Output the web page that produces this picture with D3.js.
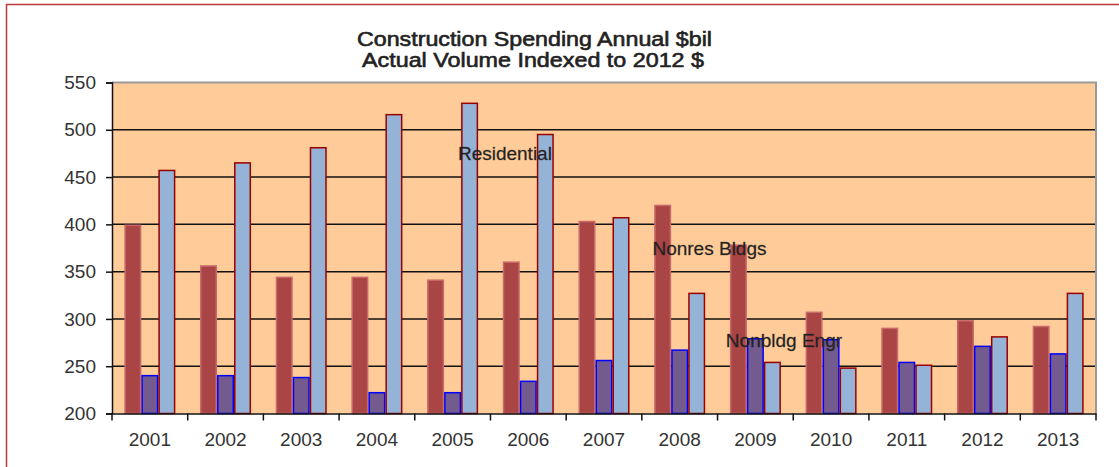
<!DOCTYPE html>
<html>
<head>
<meta charset="utf-8">
<script src="https://cdn.jsdelivr.net/npm/d3@7"></script>
<style>
  body { margin: 0; background: #fff; }
  svg { display: block; }
</style>
</head>
<body>
<div id="chart"></div>
<script>
// data
const years = ["2001", "2002", "2003", "2004", "2005", "2006", "2007", "2008", "2009", "2010", "2011", "2012", "2013"];
const nonresBldgs = [399, 356, 344, 344, 341, 360, 403, 420, 378, 307, 290, 298, 292];
const nonbldgEngr = [240, 240, 238, 222, 222, 234, 256, 267, 279, 278, 254, 271, 263];
const residential = [457, 465, 481, 516, 528, 495, 407, 327, 254, 248, 251, 281, 327];
const yTicks = [200, 250, 300, 350, 400, 450, 500, 550];

const seriesNames = ["Nonres Bldgs", "Nonbldg Engr", "Residential"];
const seriesValues = [nonresBldgs, nonbldgEngr, residential];
const seriesStyle = {
    "Nonres Bldgs": { fill: "#a94545", stroke: "#c96a6a" },
    "Nonbldg Engr": { fill: "#735a8f", stroke: "#0000ff" },
    "Residential": { fill: "#95b3d7", stroke: "#990000" }
};

const W = 1119, H = 467;
const margin = { top: 82.5, right: 23, bottom: 53.5, left: 112 },
    width = W - margin.left - margin.right,
    height = H - margin.top - margin.bottom;

const svg = d3.select("#chart")
    .append("svg")
    .attr("width", W)
    .attr("height", H);

// outer chart border (red, only top and left show)
svg.append("rect")
    .attr("x", 6.5).attr("y", 4.5)
    .attr("width", W + 20).attr("height", H + 20)
    .attr("fill", "none")
    .attr("stroke", "#b83a3a")
    .attr("stroke-width", 1.5);

// title
const titleLines = [
    { text: "Construction Spending Annual $bil", x: 534.5, y: 46, len: 355 },
    { text: "Actual Volume Indexed to 2012 $", x: 533, y: 67, len: 342 }
];
svg.selectAll(".title")
    .data(titleLines)
    .enter()
    .append("text")
    .attr("x", d => d.x - d.len / 2)
    .attr("y", d => d.y)
    .attr("textLength", d => d.len)
    .attr("lengthAdjust", "spacingAndGlyphs")
    .text(d => d.text)
    .style("font-family", "'Liberation Sans', Arial, sans-serif")
    .style("font-size", "20px")
    .attr("fill", "#222")
    .attr("stroke", "#222")
    .attr("stroke-width", 0.6);

const g = svg.append("g")
    .attr("transform", `translate(${margin.left},${margin.top})`);

const x0 = d3.scaleBand()
    .domain(years)
    .range([0, width])
    .padding(0);

const x1 = d3.scaleBand()
    .domain(seriesNames)
    .range([x0.bandwidth() * 0.163, x0.bandwidth() * 0.837])
    .padding(0);

const y = d3.scaleLinear()
    .domain([200, 550])
    .range([height, 0]);

// plot background
g.append("rect")
    .attr("x", 0).attr("y", y(550))
    .attr("width", width).attr("height", height)
    .attr("fill", "#ffcc99");

// gridlines
g.selectAll(".grid")
    .data(yTicks.filter(d => d > 200 && d < 550))
    .enter()
    .append("line")
    .attr("x1", 0).attr("x2", width)
    .attr("y1", d => y(d)).attr("y2", d => y(d))
    .attr("stroke", "#111")
    .attr("stroke-width", 1.5);

// top and right border of plot
g.append("path")
    .attr("d", `M0,${y(550)}H${width}V${height}`)
    .attr("fill", "none")
    .attr("stroke", "#9a9a9a")
    .attr("stroke-width", 2);

// bars
const rows = years.map((yr, i) => ({
    year: yr,
    values: seriesNames.map((s, j) => ({ series: s, value: seriesValues[j][i] }))
}));

g.selectAll(".year")
    .data(rows)
    .enter()
    .append("g")
    .attr("transform", d => `translate(${x0(d.year)},0)`)
    .selectAll("rect")
    .data(d => d.values)
    .enter()
    .append("rect")
    .attr("x", d => x1(d.series) + 0.75)
    .attr("y", d => y(d.value))
    .attr("width", x1.bandwidth() - 1.5)
    .attr("height", d => height - y(d.value))
    .attr("fill", d => seriesStyle[d.series].fill)
    .attr("stroke", d => seriesStyle[d.series].stroke)
    .attr("stroke-width", 1.5);

// axes
const yAxis = g.append("g")
    .call(d3.axisLeft(y).tickValues(yTicks).tickSize(6).tickPadding(10).tickFormat(d3.format("d")));
yAxis.select(".domain").attr("stroke", "#111").attr("stroke-width", 1.5);
yAxis.selectAll(".tick line").attr("stroke", "#111").attr("stroke-width", 1.5);
yAxis.selectAll("text")
    .style("font-family", "'Liberation Sans', Arial, sans-serif")
    .style("font-size", "19px")
    .attr("fill", "#333");

const xAxis = g.append("g")
    .attr("transform", `translate(0,${height})`)
    .call(d3.axisBottom(x0).tickSize(0).tickPadding(19));
xAxis.select(".domain").attr("stroke", "#111").attr("stroke-width", 1.5);
xAxis.selectAll("text")
    .style("font-family", "'Liberation Sans', Arial, sans-serif")
    .style("font-size", "19px")
    .attr("fill", "#333");

// tick marks between categories
xAxis.selectAll(".sep")
    .data(d3.range(years.length + 1))
    .enter()
    .append("line")
    .attr("x1", i => i * x0.step()).attr("x2", i => i * x0.step())
    .attr("y1", 0).attr("y2", 7)
    .attr("stroke", "#111")
    .attr("stroke-width", 1.5);

// series labels inside plot (anchored to a year band and a value)
const labels = [
    { text: "Residential", year: "2005", at: 0.57, value: 468 },
    { text: "Nonres Bldgs", year: "2008", at: 0.14, value: 368 },
    { text: "Nonbldg Engr", year: "2009", at: 0.11, value: 270 }
];
g.selectAll(".lbl")
    .data(labels)
    .enter()
    .append("text")
    .attr("x", d => x0(d.year) + x0.bandwidth() * d.at)
    .attr("y", d => y(d.value))
    .text(d => d.text)
    .style("font-family", "'Liberation Sans', Arial, sans-serif")
    .style("font-size", "19px")
    .style("paint-order", "stroke")
    .attr("stroke", "rgba(0,0,0,0.25)")
    .attr("stroke-width", 0.8)
    .attr("fill", "#222");
</script>
</body>
</html>
